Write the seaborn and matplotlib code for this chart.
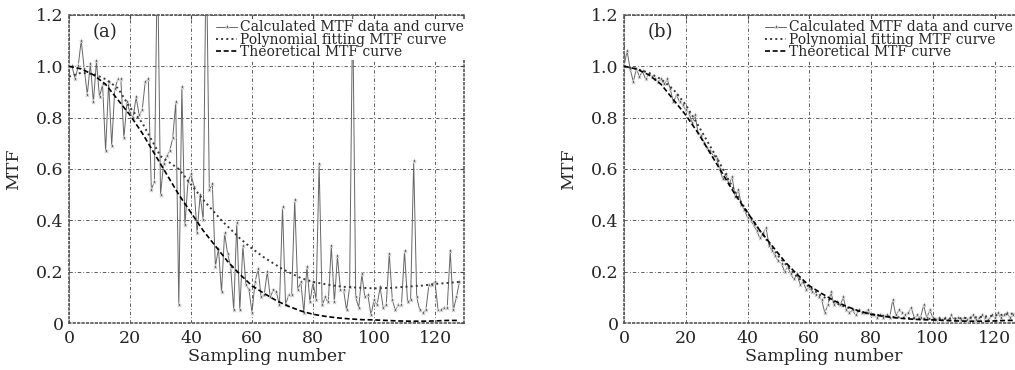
import numpy as np
import pandas as pd
import matplotlib
matplotlib.use("Agg")
import matplotlib.pyplot as plt
import seaborn as sns

# Dados
amostras = list(range(129))

calc_a = [1.00, 1.00, 0.95, 1.00, 1.10, 0.99, 0.89, 1.01, 0.86, 1.02,
          0.88, 0.93, 0.67, 0.94, 0.69, 0.91, 0.95, 0.95, 0.72, 0.86,
          0.82, 0.80, 0.88, 0.81, 0.83, 0.94, 0.95, 0.52, 0.55, 1.45,
          0.50, 0.62, 0.65, 0.67, 0.72, 0.86, 0.07, 0.92, 0.38, 0.55,
          0.58, 0.53, 0.35, 0.50, 0.40, 1.50, 0.52, 0.54, 0.22, 0.29,
          0.12, 0.35, 0.27, 0.22, 0.05, 0.39, 0.05, 0.30, 0.15, 0.13,
          0.04, 0.16, 0.21, 0.10, 0.11, 0.20, 0.10, 0.13, 0.12, 0.07,
          0.45, 0.07, 0.11, 0.11, 0.48, 0.13, 0.16, 0.04, 0.22, 0.08,
          0.16, 0.09, 0.62, 0.07, 0.10, 0.08, 0.30, 0.08, 0.26, 0.13,
          0.13, 0.05, 0.14, 1.25, 0.10, 0.06, 0.19, 0.10, 0.11, 0.03,
          0.09, 0.07, 0.14, 0.06, 0.07, 0.27, 0.09, 0.05, 0.07, 0.07,
          0.28, 0.08, 0.09, 0.63, 0.10, 0.05, 0.04, 0.05, 0.15, 0.15,
          0.16, 0.05, 0.05, 0.06, 0.06, 0.28, 0.05, 0.10, 0.16]

calc_b = [1.00, 1.06, 0.99, 0.94, 0.99, 0.96, 0.98, 0.95, 0.97, 0.96,
          0.95, 0.94, 0.95, 0.93, 0.95, 0.91, 0.86, 0.89, 0.86, 0.85,
          0.83, 0.82, 0.78, 0.81, 0.74, 0.73, 0.70, 0.68, 0.67, 0.65,
          0.64, 0.60, 0.56, 0.58, 0.54, 0.57, 0.49, 0.52, 0.46, 0.44,
          0.41, 0.40, 0.38, 0.36, 0.33, 0.35, 0.37, 0.30, 0.28, 0.26,
          0.24, 0.23, 0.20, 0.22, 0.19, 0.17, 0.19, 0.15, 0.16, 0.13,
          0.14, 0.12, 0.11, 0.10, 0.09, 0.04, 0.07, 0.12, 0.07, 0.08,
          0.07, 0.10, 0.05, 0.04, 0.05, 0.03, 0.05, 0.04, 0.04, 0.05,
          0.03, 0.03, 0.02, 0.03, 0.02, 0.03, 0.02, 0.09, 0.03, 0.05,
          0.04, 0.03, 0.04, 0.06, 0.02, 0.03, 0.02, 0.07, 0.02, 0.05,
          0.02, 0.01, 0.02, 0.01, 0.02, 0.01, 0.03, 0.01, 0.02, 0.01,
          0.02, 0.01, 0.02, 0.03, 0.01, 0.02, 0.03, 0.02, 0.01, 0.03,
          0.02, 0.04, 0.02, 0.03, 0.04, 0.02, 0.03, 0.04, 0.03]

# Curva teórica (igual nas duas figuras)
x_teo = [0, 4, 8, 12, 16, 20, 24, 28, 32, 36, 40, 44, 48, 52, 56, 60, 64,
         68, 72, 76, 80, 84, 88, 92, 96, 100, 104, 108, 112, 116, 120, 124, 128]
teo = [1.00, 0.99, 0.967, 0.93, 0.87, 0.81, 0.74, 0.66, 0.58, 0.50, 0.43,
       0.36, 0.30, 0.24, 0.19, 0.145, 0.115, 0.087, 0.065, 0.047, 0.034,
       0.026, 0.020, 0.016, 0.013, 0.012, 0.010, 0.008, 0.007, 0.007,
       0.008, 0.010, 0.010]

# Ajuste polinomial
x_pol = [0, 4, 8, 12, 16, 20, 24, 30, 36, 40, 44, 50, 56, 60, 64, 70, 76,
         80, 86, 90, 96, 100, 106, 110, 116, 120, 124, 128]
pol_a = [0.96, 0.975, 0.97, 0.95, 0.915, 0.84, 0.78, 0.65, 0.60, 0.54,
         0.48, 0.40, 0.33, 0.29, 0.255, 0.21, 0.175, 0.16, 0.147, 0.141,
         0.137, 0.135, 0.137, 0.141, 0.146, 0.152, 0.156, 0.16]
pol_b = [1.00, 0.99, 0.975, 0.95, 0.91, 0.85, 0.77, 0.645, 0.51, 0.43,
         0.36, 0.26, 0.18, 0.14, 0.105, 0.07, 0.045, 0.035, 0.025, 0.021,
         0.017, 0.016, 0.017, 0.019, 0.024, 0.029, 0.034, 0.04]

sns.set_style("white")
plt.rcParams['font.family'] = ['DejaVu Serif']
plt.rcParams['mathtext.fontset'] = 'dejavuserif'

fig = plt.figure(figsize=(10.15, 3.7), dpi=100)
ax1 = fig.add_axes([69/1015, 47/370, 395/1015, 308/370])
ax2 = fig.add_axes([624/1015, 47/370, 400/1015, 308/370])


def desenha(ax, calc, pol, letra, ancora):
    df_c = pd.DataFrame({'x': amostras, 'y': calc})
    df_p = pd.DataFrame({'x': x_pol, 'y': pol})
    df_t = pd.DataFrame({'x': x_teo, 'y': teo})
    sns.lineplot(data=df_c, x='x', y='y', ax=ax, color='#666666', lw=0.7,
                 marker='*', markersize=4, markeredgewidth=0.4,
                 label='Calculated MTF data and curve', zorder=3)
    sns.lineplot(data=df_p, x='x', y='y', ax=ax, color='#3a3a3a', lw=1.4,
                 linestyle=':', label='Polynomial fitting MTF curve', zorder=4)
    sns.lineplot(data=df_t, x='x', y='y', ax=ax, color='black', lw=1.2,
                 linestyle=(0, (3, 1.6)), label='Theoretical MTF curve', zorder=4)

    ax.set_xlim(0, 129.5)
    ax.set_ylim(0, 1.2)
    ax.set_xticks([0, 20, 40, 60, 80, 100, 120])
    ax.set_yticks([0, 0.2, 0.4, 0.6, 0.8, 1.0, 1.2])
    ax.set_yticklabels(['0', '0.2', '0.4', '0.6', '0.8', '1.0', '1.2'])
    ax.tick_params(labelsize=12.5, direction='in', length=3,
                   top=True, right=True, color='#444')
    ax.tick_params(axis='x', pad=5)
    ax.tick_params(axis='y', pad=4)
    ax.grid(True, color='#444', lw=0.6, linestyle=(0, (4, 2.5, 1, 2.5)))
    for s in ax.spines.values():
        s.set_linestyle(':')
        s.set_color('#555')
        s.set_linewidth(1.2)
    ax.set_xlabel('Sampling number', fontsize=12.5, labelpad=1)
    ax.set_ylabel('MTF', fontsize=12.5, labelpad=10)
    ax.text(0.06, 0.975, letra, transform=ax.transAxes, fontsize=13,
            va='top', ha='left')
    leg = ax.legend(loc='upper right', fontsize=10, frameon=True,
                    bbox_to_anchor=ancora, bbox_transform=fig.transFigure,
                    handlelength=1.5, handletextpad=0.2, labelspacing=-0.12,
                    borderpad=0.1, borderaxespad=0, framealpha=1,
                    fancybox=False)
    leg.get_frame().set_edgecolor('none')
    leg.set_zorder(10)


desenha(ax1, calc_a, pol_a, '(a)', (465/1015, 1 - 19/370))
desenha(ax2, calc_b, pol_b, '(b)', (1014/1015, 1 - 19/370))

plt.savefig('out.png', dpi=100)
